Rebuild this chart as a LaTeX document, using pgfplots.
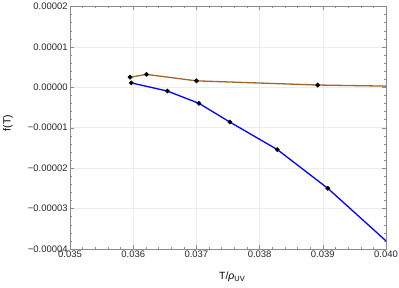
\documentclass[border=0pt]{standalone}
\usepackage{pgfplots}
\pgfplotsset{compat=1.18}
\usepackage{fontspec}
\setmainfont{Liberation Sans}
\definecolor{brownline}{RGB}{160,100,45}
\definecolor{frame}{gray}{0.55}
\begin{document}
\fontsize{9.5}{11}\selectfont
\begin{tikzpicture}
\begin{axis}[
  scale only axis, width=316bp, height=242.5bp,
  xmin=0.035, xmax=0.040, ymin=-0.00004, ymax=0.00002,
  clip=false,
  axis line style={frame},
  xtick={0.035,0.036,0.037,0.038,0.039,0.040},
  xticklabels={0.035,0.036,0.037,0.038,0.039,0.040},
  ytick={-0.00004,-0.00003,-0.00002,-0.00001,0,0.00001,0.00002},
  yticklabels={−0.00004,−0.00003,−0.00002,−0.00001,0.00000,0.00001,0.00002},
  scaled x ticks=false, scaled y ticks=false,
  minor x tick num=4, minor y tick num=4,
  tick align=inside,
  major tick length=4bp, minor tick length=2bp,
  tick style={frame, line width=0.4bp},
  xticklabel style={font=\fontsize{9.5}{11}\selectfont, text=black!85, yshift=1.5bp},
  yticklabel style={font=\fontsize{9.5}{11}\selectfont, text=black!85, xshift=1bp},
  grid=major,
  major grid style={gray!15, line width=0.5bp},
]
\addplot[brownline, line width=1.3bp, mark=*, mark size=1.6bp,
  mark options={black, fill=black}, mark indices={1,2,3,4}] coordinates {
  (0.03595,2.5e-6) (0.03621,3.2e-6) (0.03700,1.6e-6) (0.03892,0.57e-6) (0.040,0.3e-6)
};
\addplot[blue, line width=1.3bp, mark=*, mark size=1.6bp,
  mark options={black, fill=black}, mark indices={1,2,3,4,5,6}] coordinates {
  (0.03597,1.1e-6) (0.03654,-0.92e-6) (0.03704,-3.96e-6) (0.03753,-8.6e-6)
  (0.03828,-15.4e-6) (0.03908,-25e-6) (0.040,-38e-6)
};
\node[rotate=90, font=\fontsize{10.5}{12}\selectfont] at ([xshift=-62bp]rel axis cs:0,0.52) {f(T)};
\node[font=\fontsize{10.5}{12}\selectfont] at ([xshift=4bp,yshift=-28bp]rel axis cs:0.5,0) {T/\textit{ρ}\raisebox{-0.35ex}{\fontsize{7.5}{8}\selectfont UV}};
\end{axis}
\pgfresetboundingbox
\path[use as bounding box] ([xshift=-70bp,yshift=-39bp]current axis.south west) rectangle ([xshift=13bp,yshift=6.5bp]current axis.north east);
\end{tikzpicture}
\end{document}
